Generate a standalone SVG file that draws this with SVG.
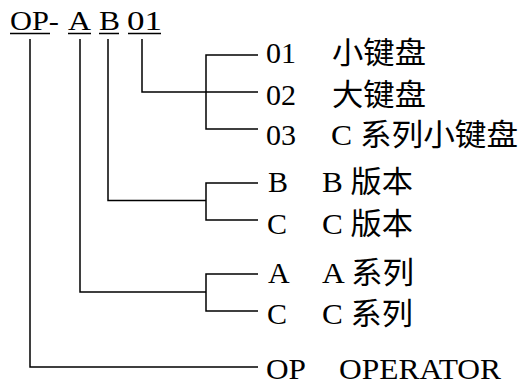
<svg xmlns="http://www.w3.org/2000/svg" width="518" height="384" viewBox="0 0 518 384">
<style>
text{font-family:"Liberation Serif","Noto Sans CJK SC",serif;fill:#000}
.top{font-size:28px}
.lbl{font-size:30px}
.ln{fill:none;stroke:#000;stroke-width:1.5}
</style>
<rect width="518" height="384" fill="#fff"/>
<g id="code">
<text class="top" x="10" y="30" textLength="49" lengthAdjust="spacingAndGlyphs">OP-</text>
<text class="top" x="68" y="30" textLength="23" lengthAdjust="spacingAndGlyphs">A</text>
<text class="top" x="99" y="30" textLength="21" lengthAdjust="spacingAndGlyphs">B</text>
<text class="top" x="127" y="30" textLength="35" lengthAdjust="spacingAndGlyphs">01</text>
<path class="ln" d="M10 33.5H50M68 33.5H91M99 33.5H119M128 33.5H161"/>
</g>
<g id="connectors">
<path class="ln" d="M142 39V92H258"/>
<path class="ln" d="M258 55H206V129H258"/>
<path class="ln" d="M108 39V200.5H206"/>
<path class="ln" d="M258 183H206V220H258"/>
<path class="ln" d="M80 39V292H206"/>
<path class="ln" d="M258 274H206V311H258"/>
<path class="ln" d="M30 39V367H258"/>
</g>
<g id="opt-01"><text class="lbl" x="266" y="63" textLength="30" lengthAdjust="spacingAndGlyphs">01</text><text class="lbl" x="332" y="63" textLength="94" lengthAdjust="spacingAndGlyphs">小键盘</text></g>
<g id="opt-02"><text class="lbl" x="266" y="105" textLength="30" lengthAdjust="spacingAndGlyphs">02</text><text class="lbl" x="332" y="105" textLength="94" lengthAdjust="spacingAndGlyphs">大键盘</text></g>
<g id="opt-03"><text class="lbl" x="266" y="145" textLength="30" lengthAdjust="spacingAndGlyphs">03</text><text class="lbl" x="331" y="145" textLength="187" lengthAdjust="spacingAndGlyphs">C 系列小键盘</text></g>
<g id="ver-B"><text class="lbl" x="268" y="192">B</text><text class="lbl" x="322" y="192" textLength="91" lengthAdjust="spacingAndGlyphs">B 版本</text></g>
<g id="ver-C"><text class="lbl" x="267" y="234">C</text><text class="lbl" x="322" y="234" textLength="91" lengthAdjust="spacingAndGlyphs">C 版本</text></g>
<g id="ser-A"><text class="lbl" x="268" y="283">A</text><text class="lbl" x="322" y="283" textLength="92" lengthAdjust="spacingAndGlyphs">A 系列</text></g>
<g id="ser-C"><text class="lbl" x="267" y="324">C</text><text class="lbl" x="322" y="324" textLength="91" lengthAdjust="spacingAndGlyphs">C 系列</text></g>
<g id="op"><text class="lbl" x="266" y="379" textLength="40" lengthAdjust="spacingAndGlyphs">OP</text><text class="lbl" x="339" y="379" textLength="162" lengthAdjust="spacingAndGlyphs">OPERATOR</text></g>
</svg>
